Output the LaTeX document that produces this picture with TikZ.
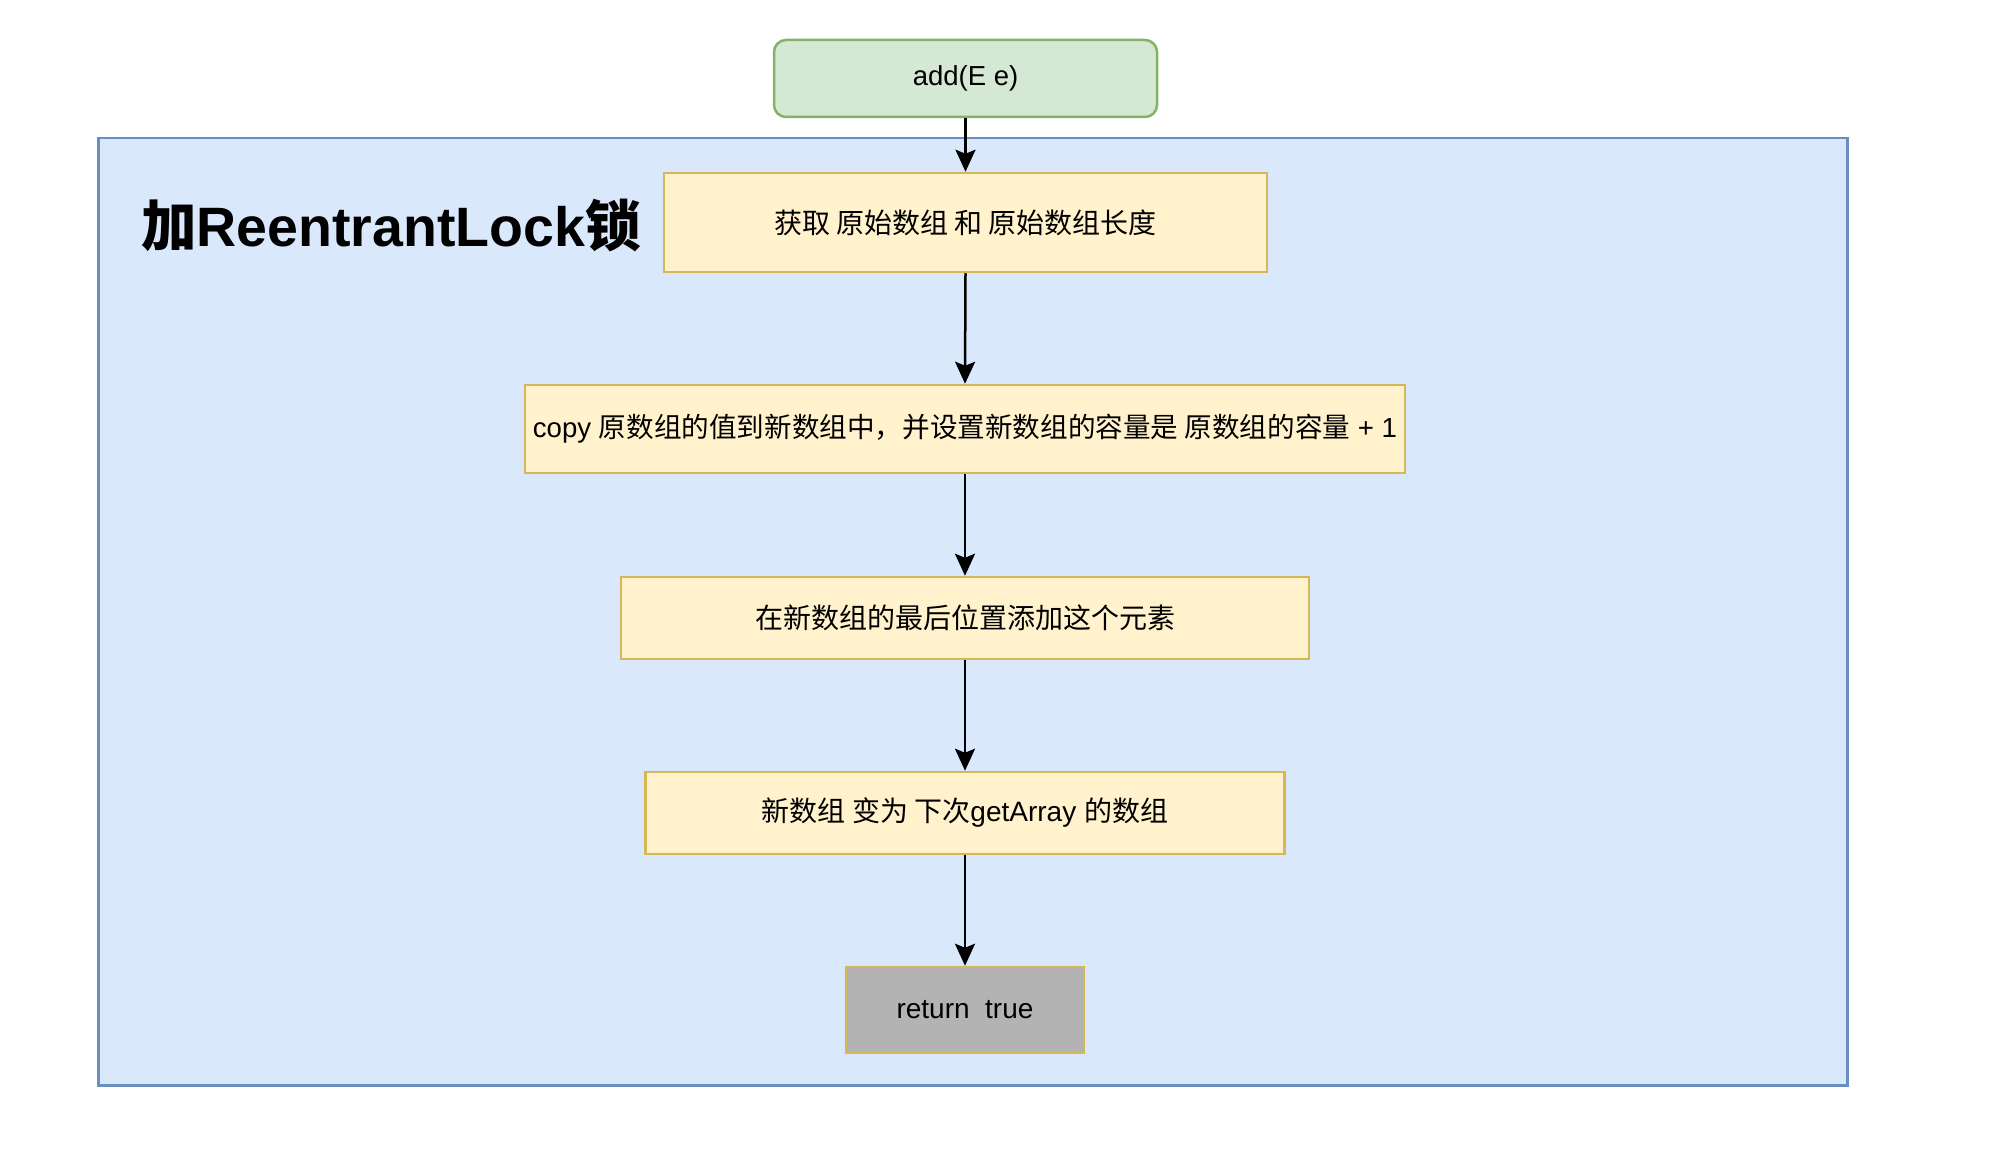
\documentclass[tikz,border=0pt]{standalone}
\usepackage{fontspec}
\setmainfont{Liberation Sans}
\newfontfamily\cjk{Noto Sans CJK SC}
\newcommand{\Cn}[1]{{\cjk #1}}
\usetikzlibrary{arrows.meta}
\definecolor{greenfill}{HTML}{D5E8D4}
\definecolor{greenline}{HTML}{82B366}
\definecolor{bluefill}{HTML}{DAE8FC}
\definecolor{blueline}{HTML}{6C8EBF}
\definecolor{yellowfill}{HTML}{FFF2CC}
\definecolor{yellowline}{HTML}{D6B656}
\definecolor{grayfill}{HTML}{B3B3B3}
\tikzset{
  stepbox/.style={draw=yellowline, fill=yellowfill, line width=2.5pt, inner sep=0pt,
    font=\fontsize{28}{33}\selectfont, text=black},
  flowarrow/.style={draw=black, line width=2.5pt, -{Stealth[length=22pt,width=20pt,inset=4pt]}}
}
\begin{document}
\begin{tikzpicture}[x=1pt,y=-1pt]
\useasboundingbox (0,0) rectangle (1992,1174);
\fill[white] (0,0) rectangle (1992,1174);
% container
\node[draw=blueline, fill=bluefill, line width=2.5pt, minimum width=1749pt, minimum height=947pt, inner sep=0pt, anchor=north west] (lockbox) at (97,137) {};
\node[anchor=west, inner sep=0pt, font=\fontsize{55.5}{64}\selectfont\bfseries] (title) at (141,226) {\Cn{加}ReentrantLock\Cn{锁}};
% start
\node[draw=greenline, fill=greenfill, line width=2.5pt, rounded corners=12pt, minimum width=383pt, minimum height=77pt, inner sep=0pt, font=\fontsize{27.5}{32}\selectfont] (start) at (965.5,78.5) {\raisebox{-4pt}{add(E e)}};
% steps
\node[stepbox, minimum width=603pt, minimum height=99pt] (s1) at (965.5,222.5) {\Cn{获取 原始数组 和 原始数组长度}};
\node[stepbox, minimum width=880pt, minimum height=88pt, font=\fontsize{27.6}{33}\selectfont] (s2) at (965,429) {copy \Cn{原数组的值到新数组中，并设置新数组的容量是 原数组的容量} + 1};
\node[stepbox, minimum width=688pt, minimum height=82pt] (s3) at (965,618) {\Cn{在新数组的最后位置添加这个元素}};
\node[stepbox, minimum width=639pt, minimum height=82pt] (s4) at (965,813) {\Cn{新数组 变为 下次}getArray \Cn{的数组}};
\node[stepbox, fill=grayfill, minimum width=238pt, minimum height=86pt] (s5) at (965,1010) {\raisebox{-3pt}{return\ \ true}};
% arrows
\draw[flowarrow] (start.south) -- (s1.north);
\draw[flowarrow] (s1.south) -- (s2.north);
\draw[flowarrow] (s2.south) -- (s3.north);
\draw[flowarrow] (s3.south) -- (s4.north);
\draw[flowarrow] (s4.south) -- (s5.north);
\end{tikzpicture}
\end{document}
